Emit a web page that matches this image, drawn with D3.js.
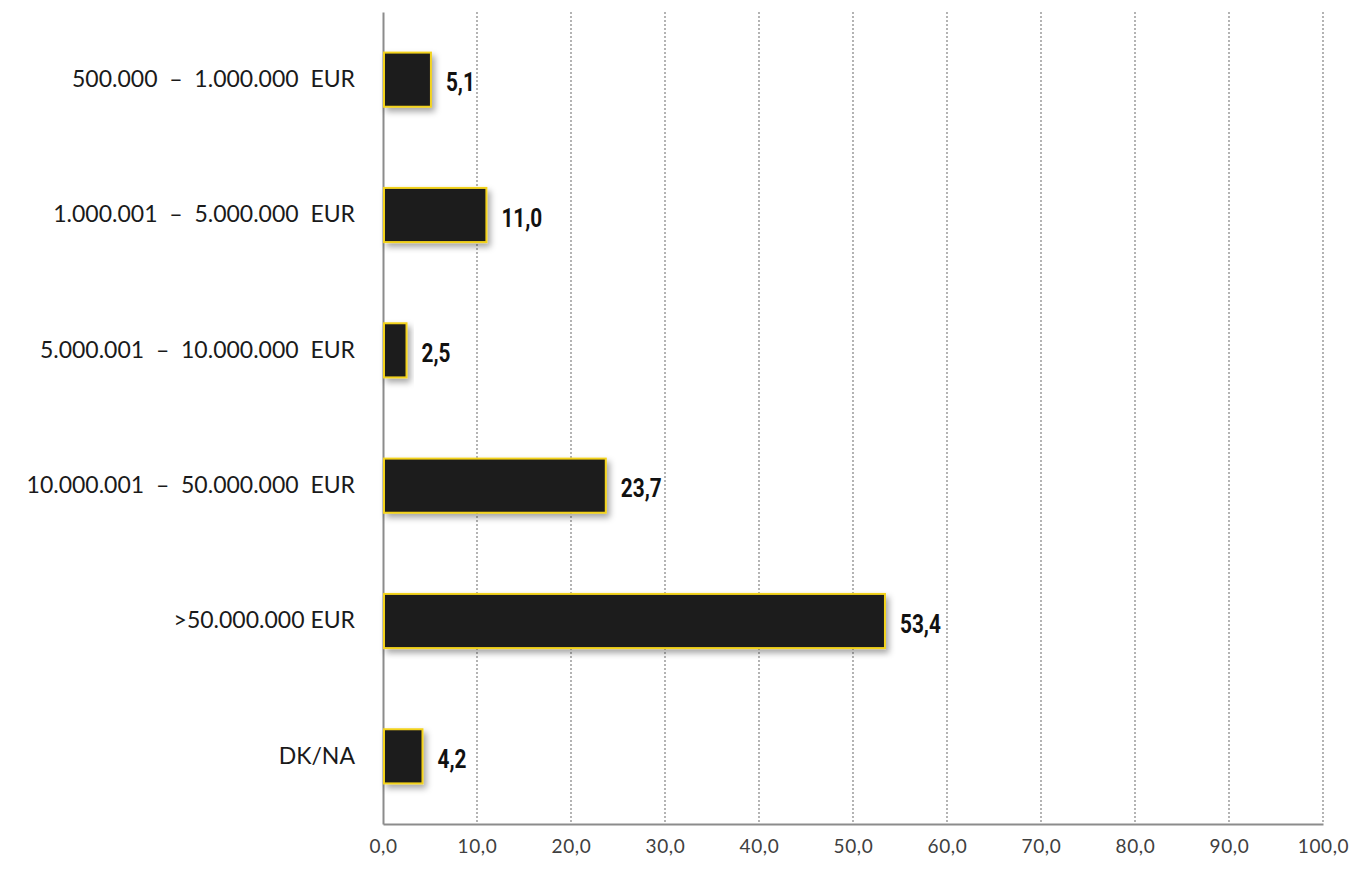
<!DOCTYPE html>
<html>
<head>
<meta charset="utf-8">
<script src="https://cdn.jsdelivr.net/npm/d3@7"></script>
<style>
  html, body { margin: 0; padding: 0; background: #ffffff; }
  svg { display: block; }
</style>
</head>
<body>
<svg id="chart" width="1357" height="870"></svg>
<script>
// Share of respondents by turnover bracket (%)
const categories = [
  "500.000  \u2013  1.000.000  EUR",
  "1.000.001  \u2013  5.000.000  EUR",
  "5.000.001  \u2013  10.000.000  EUR",
  "10.000.001  \u2013  50.000.000  EUR",
  ">50.000.000 EUR",
  "DK/NA"
];
const values = [5.1, 11.0, 2.5, 23.7, 53.4, 4.2];
const xTicks = [0, 10, 20, 30, 40, 50, 60, 70, 80, 90, 100];

const svg = d3.select("#chart");
const margin = { top: 12, left: 383, right: 34, bottom: 46 };
const width = 1357, height = 870;

const x = d3.scaleLinear().domain([0, 100]).range([margin.left, width - margin.right]);
const y = d3.scaleBand().domain(categories)
  .range([margin.top, height - margin.bottom])
  .paddingInner(0.6).paddingOuter(0.3);

const fmt = v => d3.format(".1f")(v).replace(".", ",");

// drop shadow under the bars
const defs = svg.append("defs");
const f = defs.append("filter").attr("id", "shadow")
  .attr("x", "-20%").attr("y", "-20%").attr("width", "150%").attr("height", "160%");
f.append("feDropShadow").attr("dx", 3).attr("dy", 4).attr("stdDeviation", 3)
  .attr("flood-color", "#000").attr("flood-opacity", 0.35);

// vertical dotted gridlines
svg.append("g").selectAll("line")
  .data(xTicks.filter(d => d > 0))
  .join("line")
  .attr("x1", d => x(d)).attr("x2", d => x(d))
  .attr("y1", margin.top).attr("y2", height - margin.bottom)
  .attr("stroke", "#8c8c8c").attr("stroke-width", 1.3)
  .attr("stroke-dasharray", "2,2");

// bottom axis
const xAxis = svg.append("g")
  .attr("transform", `translate(0,${height - margin.bottom})`)
  .call(d3.axisBottom(x).tickValues(xTicks).tickFormat(fmt).tickSize(0).tickPadding(16));
xAxis.select(".domain").attr("stroke", "#8c8c8c").attr("stroke-width", 2);
xAxis.selectAll("text")
  .attr("font-family", "Lato, 'Open Sans', sans-serif")
  .attr("font-size", 19).attr("letter-spacing", 0.6).attr("fill", "#404040");

// left axis
const yAxis = svg.append("g")
  .attr("transform", `translate(${margin.left},0)`)
  .call(d3.axisLeft(y).tickSize(0).tickPadding(28));
yAxis.select(".domain").attr("stroke", "#8c8c8c").attr("stroke-width", 2);
yAxis.selectAll("text")
  .attr("font-family", "Lato, 'Open Sans', sans-serif")
  .attr("font-size", 23).attr("fill", "#1a1a1a")
  .style("white-space", "pre");

// bars
svg.append("g").selectAll("rect")
  .data(values)
  .join("rect")
  .attr("x", x(0) + 1)
  .attr("y", (d, i) => y(categories[i]))
  .attr("width", d => x(d) - x(0) - 1)
  .attr("height", y.bandwidth())
  .attr("fill", "#1c1a1f")
  .attr("stroke", "#f2d21b")
  .attr("stroke-width", 2)
  .attr("filter", "url(#shadow)");

// value labels, bold and horizontally condensed
svg.append("g").selectAll("text")
  .data(values)
  .join("text")
  .attr("transform", (d, i) =>
    `translate(${x(d) + 15},${y(categories[i]) + y.bandwidth() / 2 + 11.5}) scale(0.8,1)`)
  .attr("font-family", "Roboto, 'DejaVu Sans', sans-serif")
  .attr("font-weight", "bold")
  .attr("font-size", 26)
  .attr("fill", "#111")
  .text(fmt);
</script>
</body>
</html>
